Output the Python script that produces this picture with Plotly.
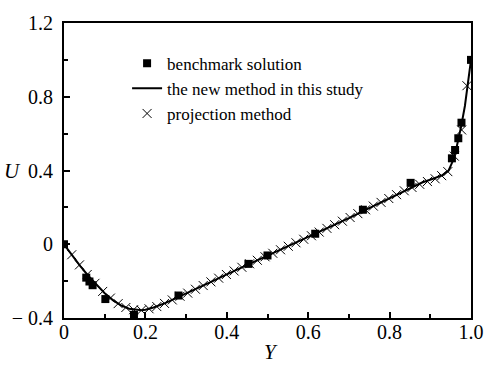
import plotly.graph_objects as go

# Benchmark solution (squares)
bench_y = [1.0, 0.9766, 0.9688, 0.9609, 0.9531, 0.8516, 0.7344, 0.6172, 0.5, 0.4531,
           0.2813, 0.1719, 0.1016, 0.0703, 0.0625, 0.0547, 0.0]
bench_u = [1.0, 0.65928, 0.57492, 0.51117, 0.46604, 0.33304, 0.18719, 0.05702, -0.06080,
           -0.10648, -0.27805, -0.38289, -0.29730, -0.22220, -0.20196, -0.18109, 0.0]

# New method (line)
line_y = [0, 0.02, 0.04, 0.06, 0.08, 0.10, 0.12, 0.14, 0.16, 0.18, 0.19, 0.20, 0.22, 0.25,
          0.28, 0.32, 0.36, 0.40, 0.45, 0.50, 0.55, 0.60, 0.65, 0.70, 0.75, 0.80, 0.85,
          0.88, 0.91, 0.93, 0.945, 0.955, 0.965, 0.975, 0.985, 0.993, 1.0]
line_u = [0, -0.06, -0.118, -0.172, -0.222, -0.266, -0.303, -0.332, -0.350, -0.358, -0.358,
          -0.355, -0.343, -0.318, -0.288, -0.247, -0.205, -0.163, -0.112, -0.062, -0.012,
          0.038, 0.090, 0.142, 0.196, 0.250, 0.305, 0.335, 0.358, 0.375, 0.40, 0.45, 0.53,
          0.63, 0.75, 0.87, 1.0]

# Projection method (crosses)
proj_y = [0.019, 0.038, 0.057, 0.076, 0.095, 0.114, 0.133, 0.152, 0.171, 0.190, 0.209, 0.228,
          0.247, 0.266, 0.285, 0.304, 0.323, 0.342, 0.361, 0.380, 0.399, 0.418, 0.437, 0.456,
          0.475, 0.494, 0.513, 0.532, 0.551, 0.570, 0.589, 0.608, 0.627, 0.646, 0.665, 0.684,
          0.703, 0.722, 0.741, 0.760, 0.779, 0.798, 0.817, 0.836, 0.855, 0.874, 0.893, 0.912,
          0.928, 0.943, 0.959, 0.977, 0.990]
proj_u = [-0.057, -0.112, -0.164, -0.212, -0.256, -0.292, -0.322, -0.343, -0.355, -0.358,
          -0.350, -0.338, -0.321, -0.302, -0.282, -0.265, -0.244, -0.224, -0.204, -0.184,
          -0.164, -0.145, -0.125, -0.106, -0.087, -0.068, -0.049, -0.030, -0.011, 0.008,
          0.027, 0.046, 0.066, 0.086, 0.106, 0.125, 0.145, 0.166, 0.187, 0.207, 0.227,
          0.248, 0.269, 0.290, 0.308, 0.325, 0.340, 0.355, 0.372, 0.394, 0.478, 0.620, 0.860]

x_tickvals = [0, 0.2, 0.4, 0.6, 0.8, 1.0]
x_ticktext = ["0", "0.2", "0.4", "0.6", "0.8", "1.0"]
y_tickvals = [-0.4, 0, 0.4, 0.8, 1.2]
y_ticktext = ["\u2212 0.4", "0", "0.4", "0.8", "1.2"]

FONT = "Times New Roman"

fig = go.Figure()
fig.add_trace(go.Scatter(x=bench_y, y=bench_u, mode="markers", name="benchmark solution",
                         marker=dict(symbol="square", size=8, color="black")))
fig.add_trace(go.Scatter(x=line_y, y=line_u, mode="lines", name="the new method in this study",
                         line=dict(color="black", width=2)))
fig.add_trace(go.Scatter(x=proj_y, y=proj_u, mode="markers", name="projection method",
                         marker=dict(symbol="x-thin-open", size=9, color="black",
                                     line=dict(width=1, color="#333"))))

axis_common = dict(showline=True, linewidth=2, linecolor="black", mirror=True,
                   ticks="inside", ticklen=6, tickwidth=1.5, tickcolor="black",
                   showgrid=False, zeroline=False,
                   tickfont=dict(family=FONT, size=20, color="black"))

fig.update_xaxes(range=[0, 1.0], tickvals=x_tickvals, ticktext=x_ticktext,
                 minor=dict(ticks="inside", ticklen=4, tickwidth=1.5, dtick=0.1,
                            tickcolor="black"),
                 ticklabelstandoff=-5, **axis_common)
fig.update_yaxes(range=[-0.4, 1.2], tickvals=y_tickvals, ticktext=y_ticktext,
                 minor=dict(ticks="inside", ticklen=4, tickwidth=1.5, dtick=0.2,
                            tickcolor="black"),
                 ticklabelstandoff=5, **axis_common)

fig.update_layout(
    width=496, height=368,
    margin=dict(l=64, r=13, t=13, b=50),
    paper_bgcolor="white", plot_bgcolor="white",
    font=dict(family=FONT, color="black"),
    showlegend=True,
    legend=dict(x=0.155, y=0.923, xanchor="left", yanchor="top",
                bgcolor="rgba(0,0,0,0)", borderwidth=0,
                font=dict(family=FONT, size=17, color="black"),
                tracegroupgap=0, itemwidth=30),
    annotations=[
        dict(text="<i>U</i>", xref="paper", yref="paper", x=-0.127, y=0.5,
             xanchor="center", yanchor="middle", showarrow=False,
             font=dict(family=FONT, size=21, color="black")),
        dict(text="<i>Y</i>", xref="paper", yref="paper", x=0.508, y=-0.115,
             xanchor="center", yanchor="middle", showarrow=False,
             font=dict(family=FONT, size=21, color="black")),
    ],
)

fig.write_html("out.html")
